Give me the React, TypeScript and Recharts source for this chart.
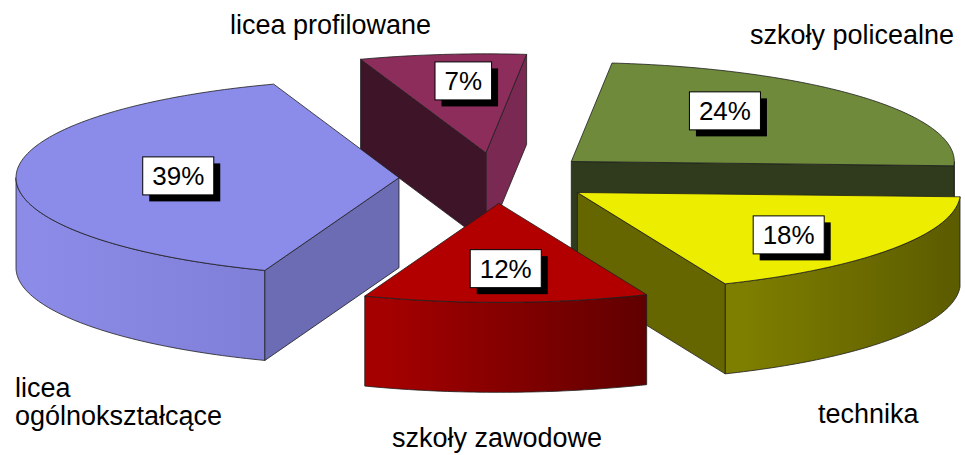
import React from 'react';
import { PieChart, Pie } from 'recharts';

// ---- data ----
const categories = ['szkoły policealne', 'licea profilowane', 'licea ogólnokształcące', 'szkoły zawodowe', 'technika'];
const shares = [24, 7, 39, 12, 18];
const percentLabels = ['24%', '7%', '39%', '12%', '18%'];

const data = categories.map((name, i) => ({ name, value: shares[i] }));

// ---- styles / layout ----
const TOP = ['#6f8a3b', '#8c2d5b', '#8b8be9', '#b20000', '#eded00'];
const FACE_START = ['#2f3b1c', '#7a2a52', '#6c6cb4', '#6a0000', '#666600'];
const FACE_END = ['#2f3b1c', '#3e1528', '#6c6cb4', '#6a0000', '#666600'];
const WALL_FROM = ['#34421f', '#5a1d3a', '#8c8ce8', '#a40000', '#7e7e00'];
const WALL_TO = ['#2f3b1c', '#5a1d3a', '#7f7fd8', '#600000', '#5b5b00'];
const PCT_OFFSET: [number, number][] = [[-38, -8], [6, -7], [32, -1], [2, 0], [4, 5]];
const NAME_POS: { x: number; y: number; wrap: boolean }[] = [
  { x: 750, y: 44, wrap: false },
  { x: 230, y: 34, wrap: false },
  { x: 15, y: 397, wrap: true },
  { x: 392, y: 447, wrap: false },
  { x: 818, y: 423, wrap: false },
];

const K = 0.2585; // vertical squash of the tilted disc
const DEPTH = 90;
const EXPLODE = 98;
const RAD = Math.PI / 180;
const FONT = '"Liberation Sans", Arial, sans-serif';
const STROKE = '#1e1e1e';

type P = [number, number];
const proj = (ox: number, oy: number, r: number, deg: number, z: number): P => [
  ox + r * Math.cos(deg * RAD),
  oy - K * r * Math.sin(deg * RAD) + z,
];
const arcPts = (ox: number, oy: number, r: number, a: number, b: number, z: number): P[] => {
  const n = Math.max(2, Math.ceil(Math.abs(b - a)));
  const pts: P[] = [];
  for (let i = 0; i <= n; i++) pts.push(proj(ox, oy, r, a + ((b - a) * i) / n, z));
  return pts;
};
const toPath = (pts: P[]) => 'M' + pts.map((q) => `${q[0].toFixed(2)},${q[1].toFixed(2)}`).join('L') + 'Z';

const origin = (p: any): P => {
  const mid = (p.startAngle + p.endAngle) / 2;
  return [p.cx + EXPLODE * Math.cos(mid * RAD), p.cy - K * EXPLODE * Math.sin(mid * RAD)];
};

const Slice = (p: any) => {
  const i = p.index;
  const a = p.startAngle;
  const b = p.endAngle;
  const R = p.outerRadius;
  const [ox, oy] = origin(p);
  const parts: React.ReactNode[] = [];
  const gid = `wall-grad-${i}`;

  // outer wall (front half only)
  const ranges: [number, number][] = [[-180, 0], [180, 360]];
  ranges.forEach(([l, h], k) => {
    const lo = Math.max(a, l);
    const hi = Math.min(b, h);
    if (hi > lo) {
      const pts = [...arcPts(ox, oy, R, lo, hi, 0), ...arcPts(ox, oy, R, hi, lo, DEPTH)];
      parts.push(<path key={`w${k}`} d={toPath(pts)} fill={`url(#${gid})`} stroke={STROKE} strokeWidth={0.8} />);
    }
  });

  const radialFace = (ang: number, fill: string, key: string) => {
    const o = proj(ox, oy, R, ang, 0);
    const pts: P[] = [[ox, oy], o, [o[0], o[1] + DEPTH], [ox, oy + DEPTH]];
    parts.push(<path key={key} d={toPath(pts)} fill={fill} stroke={STROKE} strokeWidth={0.8} />);
  };
  if (Math.cos(a * RAD) > 0) radialFace(a, FACE_START[i], 'fs');
  if (Math.cos(b * RAD) < 0) radialFace(b, FACE_END[i], 'fe');

  const top: P[] = [[ox, oy], ...arcPts(ox, oy, R, a, b, 0)];
  parts.push(<path key="top" d={toPath(top)} fill={TOP[i]} stroke={STROKE} strokeWidth={0.8} />);

  return (
    <g>
      <defs>
        <linearGradient id={gid} x1="0" y1="0" x2="1" y2="0">
          <stop offset="0" stopColor={WALL_FROM[i]} />
          <stop offset="0.08" stopColor={WALL_FROM[i]} />
          <stop offset="1" stopColor={WALL_TO[i]} />
        </linearGradient>
      </defs>
      {parts}
    </g>
  );
};

const Labels = (p: any) => {
  const i = p.index;
  const [ox, oy] = origin(p);
  const mid = (p.startAngle + p.endAngle) / 2;
  const [bx, by] = proj(ox, oy, p.outerRadius * 0.66, mid, 0);
  const cx = bx + PCT_OFFSET[i][0];
  const cy = by + PCT_OFFSET[i][1];
  const txt = percentLabels[i];
  const fs = 26;
  const digits = txt.length - 1;
  const w = 19 + fs * (0.556 * digits + 0.889);
  const h = 38;
  const pos = NAME_POS[i];
  const name = categories[i];
  const lines = pos.wrap ? name.split(' ') : [name];
  return (
    <g>
      <rect x={cx - w / 2 + 6.5} y={cy - h / 2 + 6.5} width={w} height={h} fill="#000" />
      <rect x={cx - w / 2} y={cy - h / 2} width={w} height={h} fill="#fff" stroke="#000" strokeWidth={1} />
      <text x={cx} y={cy + 9.3} textAnchor="middle" fontFamily={FONT} fontSize={fs} fill="#000">
        {txt}
      </text>
      {lines.map((ln, k) => (
        <text key={k} x={pos.x} y={pos.y + k * 28} textAnchor="start" fontFamily={FONT} fontSize={27} fill="#000">
          {ln}
        </text>
      ))}
    </g>
  );
};

const pieCommon = {
  data,
  dataKey: 'value',
  nameKey: 'name',
  cx: 497,
  cy: 178,
  innerRadius: 0,
  outerRadius: 383,
  startAngle: -2.5,
  endAngle: 357.5,
  fill: 'none',
  stroke: 'none',
  labelLine: false,
  isAnimationActive: false,
};

export default function App() {
  return (
    <div style={{ position: 'absolute', left: 0, top: 0, width: 965, height: 455, background: '#fff' }}>
      <PieChart width={965} height={455} margin={{ top: 0, right: 0, bottom: 0, left: 0 }}>
        <Pie {...(pieCommon as any)} label={(p: any) => (p.index === 3 ? <g /> : <Slice {...p} />)} />
        <Pie {...(pieCommon as any)} label={(p: any) => (p.index === 3 ? <Slice {...p} /> : <g />)} />
        <Pie {...(pieCommon as any)} label={(p: any) => <Labels {...p} />} />
      </PieChart>
    </div>
  );
}
